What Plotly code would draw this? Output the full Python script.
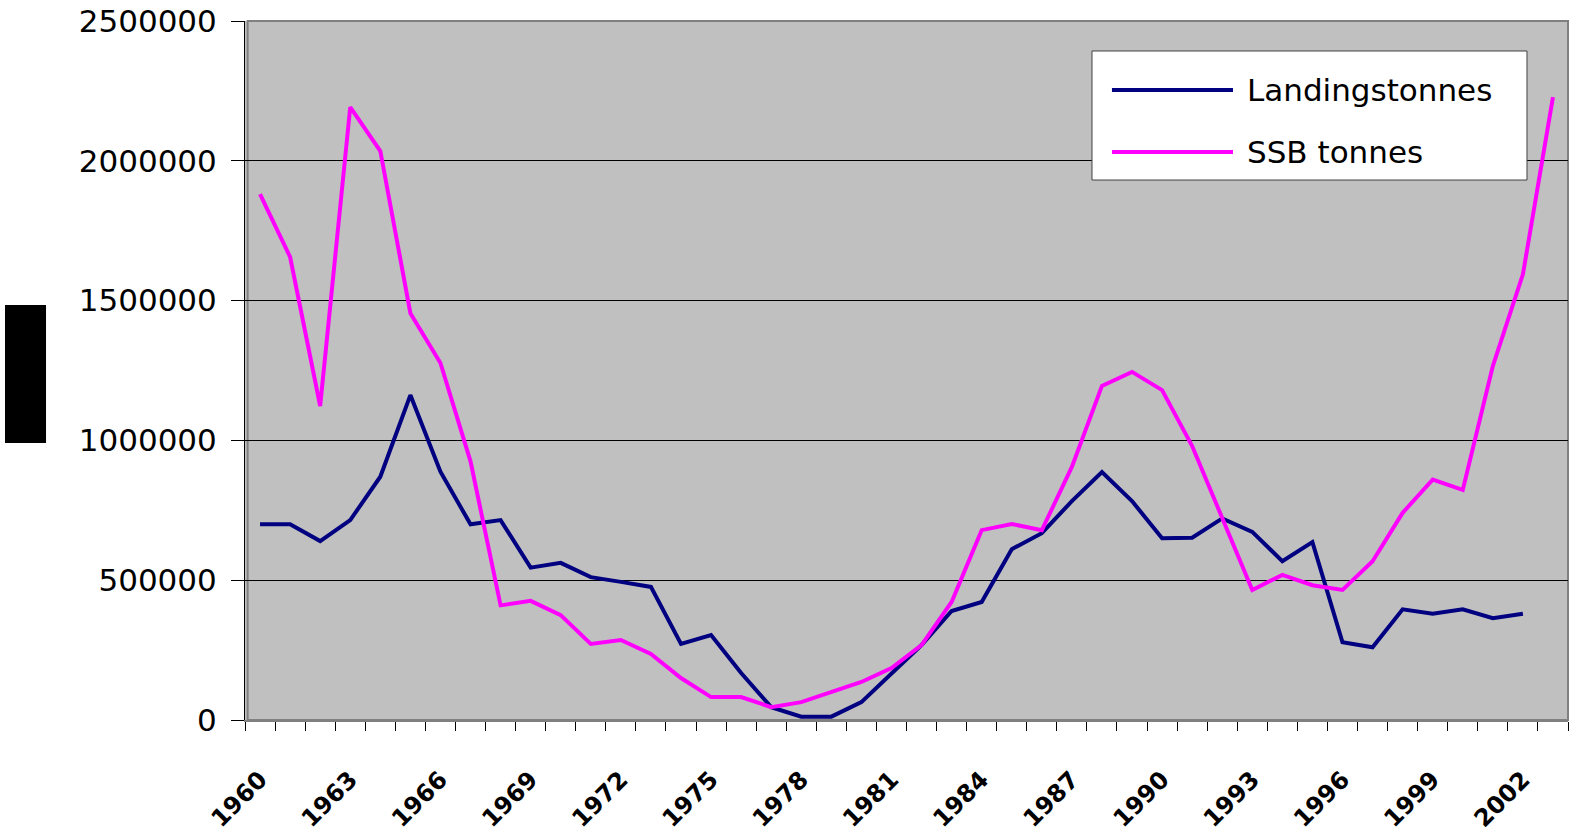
import plotly.graph_objects as go

years = list(range(1960, 2004))
landings_years = list(range(1960, 2003))
landings = [700000, 700000, 640000, 715000, 870000, 1162000, 888000, 700000, 715000, 545000,
            562000, 511000, 494000, 476000, 272000, 304000, 168000, 46000, 12000, 12000,
            64000, 168000, 268000, 390000, 422000, 611000, 668000, 783000, 887000, 783000,
            650000, 652000, 721000, 673000, 568000, 636000, 278000, 260000, 396000, 380000,
            396000, 364000, 380000]
ssb = [1881000, 1656000, 1123000, 2192000, 2035000, 1455000, 1277000, 925000, 410000, 426000,
       375000, 272000, 286000, 236000, 150000, 82000, 82000, 46000, 64000, 100000,
       136000, 186000, 268000, 422000, 679000, 701000, 679000, 905000, 1195000, 1245000,
       1180000, 980000, 721000, 465000, 519000, 482000, 465000, 568000, 741000, 860000,
       823000, 1266000, 1594000, 2228000]
label_years = list(range(1960, 2004, 3))
label_text = [str(y) for y in label_years]
y_ticks = [0, 500000, 1000000, 1500000, 2000000, 2500000]
series_names = ["Landingstonnes", "SSB tonnes"]
series_colors = ["#000080", "#FF00FF"]

fig = go.Figure()
fig.add_trace(go.Scatter(x=landings_years, y=landings, mode="lines", name=series_names[0],
                         line=dict(color=series_colors[0], width=4), showlegend=False))
fig.add_trace(go.Scatter(x=years, y=ssb, mode="lines", name=series_names[1],
                         line=dict(color=series_colors[1], width=4), showlegend=False))

font_main = "DejaVu Sans, Arial, sans-serif"

fig.update_layout(
    width=1569, height=835,
    margin=dict(l=245, r=1, t=21, b=115),
    paper_bgcolor="white",
    plot_bgcolor="#C0C0C0",
    xaxis=dict(
        range=[1959.5, 2003.5],
        tickvals=label_years, ticktext=label_text,
        tickangle=-45,
        ticks="",
        tickfont=dict(family="DejaVu Sans, sans-serif", size=24, color="black", weight="bold"),
        ticklabelstandoff=34,
        showgrid=False, zeroline=False,
        showline=True, linecolor="#808080", linewidth=2,
        minor=dict(ticks="outside", ticklen=9, tick0=1959.5, dtick=1,
                   tickcolor="black", tickwidth=1, showgrid=False),
        automargin=False,
    ),
    yaxis=dict(
        range=[0, 2500000],
        tickvals=y_ticks,
        tickformat="d",
        ticks="outside", ticklen=13, tickcolor="black",
        tickfont=dict(family=font_main, size=31, color="black"),
        ticklabelstandoff=8,
        showgrid=True, gridcolor="black", gridwidth=1,
        zeroline=False,
        showline=True, linecolor="black", linewidth=1,
        automargin=False,
    ),
    shapes=[
        dict(type="rect", xref="paper", yref="paper", x0=0.002, x1=1, y0=0, y1=1,
             line=dict(color="#808080", width=2), layer="below"),
        dict(type="rect", xref="paper", yref="paper", x0=-0.1814, x1=-0.1504, y0=0.3963, y1=0.5937,
             fillcolor="black", line=dict(width=0)),
        dict(type="rect", xref="paper", yref="paper", x0=0.6402, x1=0.9690, y0=0.7725, y1=0.9571,
             fillcolor="white", line=dict(color="#404040", width=1)),
        dict(type="line", xref="paper", yref="paper", x0=0.6553, x1=0.7468, y0=0.9013, y1=0.9013,
             line=dict(color=series_colors[0], width=4)),
        dict(type="line", xref="paper", yref="paper", x0=0.6553, x1=0.7468, y0=0.8126, y1=0.8126,
             line=dict(color=series_colors[1], width=4)),
    ],
    annotations=[
        dict(xref="paper", yref="paper", x=0.7559, y=0.9013, text=series_names[0], showarrow=False,
             xanchor="left", yanchor="middle", font=dict(family=font_main, size=31, color="black")),
        dict(xref="paper", yref="paper", x=0.7559, y=0.8126, text=series_names[1], showarrow=False,
             xanchor="left", yanchor="middle", font=dict(family=font_main, size=31, color="black")),
    ],
)

fig.write_html("out.html",
               config={"displayModeBar": False},
               post_script="document.body.style.margin='0';document.body.style.overflow='hidden';")
